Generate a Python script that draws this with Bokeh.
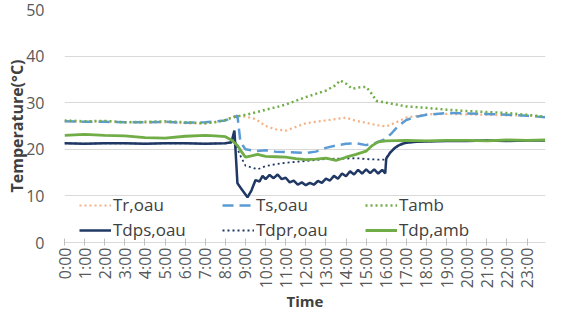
import math
from bokeh.plotting import figure
from bokeh.models import Range1d, FixedTicker, Legend, LegendItem
from bokeh.embed import file_html
from bokeh.resources import INLINE

# ---------------- data ----------------
hour_ticks = list(range(24))
hour_labels = ["0:00", "1:00", "2:00", "3:00", "4:00", "5:00", "6:00", "7:00",
               "8:00", "9:00", "10:00", "11:00", "12:00", "13:00", "14:00", "15:00",
               "16:00", "17:00", "18:00", "19:00", "20:00", "21:00", "22:00", "23:00"]
y_ticks = [0, 10, 20, 30, 40, 50]

t_tr = [0, 1, 2, 3, 4, 5, 6, 7, 8, 8.5, 9, 9.5, 10, 10.5, 11, 11.5, 12, 12.5, 13,
        13.5, 14, 14.5, 15, 15.5, 16, 16.5, 17, 18, 19, 20, 21, 22, 23, 23.9]
tr_oau = [26.0, 25.9, 26.0, 25.8, 25.7, 25.8, 25.6, 25.5, 26.3, 27.2, 27.0, 26.5, 25.0,
          24.3, 24.0, 24.8, 25.6, 25.9, 26.2, 26.5, 26.8, 26.1, 25.7, 25.2, 24.9, 25.8,
          26.8, 27.5, 27.6, 27.5, 27.4, 27.3, 27.2, 27.0]

t_ts = [0, 1, 2, 3, 4, 5, 6, 7, 8, 8.4, 8.6, 8.75, 9, 9.5, 10, 10.5, 11, 11.5, 12,
        12.5, 13, 13.5, 14, 14.5, 15, 15.5, 16, 16.3, 16.6, 17, 17.5, 18, 19, 20,
        21, 22, 23, 23.9]
ts_oau = [26.0, 25.9, 25.9, 25.8, 25.8, 25.9, 25.7, 25.8, 26.2, 26.8, 27.2, 21.5, 20.0,
          19.6, 19.8, 19.5, 19.4, 19.3, 19.2, 19.5, 20.3, 20.8, 21.2, 21.3, 20.9, 21.4,
          22.3, 23.6, 25.0, 26.3, 27.0, 27.4, 27.8, 27.7, 27.6, 27.4, 27.2, 26.9]

t_amb = [0, 1, 2, 3, 4, 5, 6, 7, 7.5, 8, 8.5, 9, 9.5, 10, 10.5, 11, 11.5, 12, 12.5,
         13, 13.5, 13.7, 14, 14.3, 14.7, 15, 15.3, 15.5, 16, 16.5, 17, 18, 19, 20,
         21, 22, 23, 23.9]
tamb = [26.2, 26.0, 26.1, 25.8, 25.9, 26.0, 25.8, 25.6, 25.8, 26.3, 27.0, 27.4, 27.9,
        28.5, 29.0, 29.6, 30.4, 31.2, 31.9, 32.6, 33.8, 34.8, 34.1, 33.0, 33.3, 33.4,
        31.8, 30.4, 30.0, 29.6, 29.2, 28.9, 28.5, 28.2, 28.0, 27.8, 27.4, 27.0]

t_dps = [0, 1, 2, 3, 4, 5, 6, 7, 8, 8.3, 8.45, 8.6, 8.8, 9.1, 9.3, 9.5, 9.7, 9.85,
         10.0, 10.2, 10.4, 10.6, 10.8, 11.0, 11.2, 11.4, 11.6, 11.8, 12.0, 12.2,
         12.4, 12.6, 12.8, 13.0, 13.2, 13.4, 13.6, 13.8, 14.0, 14.2, 14.4, 14.6,
         14.8, 15.0, 15.2, 15.4, 15.6, 15.8, 15.95, 16.0, 16.2, 16.4, 16.6, 16.8,
         17.0, 17.5, 18, 19, 20, 21, 22, 23, 23.9]
tdps_oau = [21.3, 21.2, 21.3, 21.3, 21.2, 21.3, 21.3, 21.2, 21.3, 21.5, 24.0, 12.7,
            11.5, 9.7, 11.2, 13.4, 13.1, 14.3, 13.6, 14.5, 13.8, 14.6, 13.6, 13.9,
            12.9, 13.3, 12.4, 12.9, 12.3, 12.8, 12.4, 13.2, 12.8, 13.7, 13.3, 14.3,
            13.7, 14.8, 14.2, 15.3, 14.6, 15.6, 14.8, 15.7, 14.9, 15.7, 14.8, 15.6,
            14.8, 18.0, 19.3, 20.2, 20.8, 21.2, 21.4, 21.6, 21.7, 21.8, 21.8, 21.9,
            21.8, 21.9, 21.9]

t_dpr = [0, 1, 2, 3, 4, 5, 6, 7, 8, 8.5, 8.7, 9.0, 9.3, 9.6, 10, 10.5, 11, 11.5, 12,
         12.5, 13, 13.5, 14, 14.5, 15, 15.5, 15.95, 16.0, 16.2, 16.5, 17, 17.5, 18,
         19, 20, 21, 22, 23, 23.9]
tdpr_oau = [21.3, 21.2, 21.3, 21.3, 21.2, 21.3, 21.3, 21.2, 21.3, 21.5, 19.0, 16.5,
            16.1, 15.7, 16.4, 16.8, 17.1, 17.3, 17.5, 17.7, 17.9, 18.0, 18.0, 18.1,
            17.9, 17.8, 17.8, 18.2, 19.4, 20.5, 21.4, 21.6, 21.7, 21.8, 21.8, 21.9,
            21.8, 21.9, 21.9]

t_dpa = [0, 0.5, 1, 2, 3, 4, 5, 6, 7, 7.5, 8, 8.3, 8.6, 8.8, 9, 9.3, 9.6, 10, 10.5,
         11, 11.5, 12, 12.5, 13, 13.5, 14, 14.5, 15, 15.3, 15.6, 16, 17, 18, 19, 20,
         21, 22, 23, 23.9]
tdp_amb = [23.0, 23.1, 23.2, 23.0, 22.9, 22.5, 22.4, 22.8, 23.0, 22.9, 22.7, 22.0,
           20.8, 19.5, 18.3, 18.6, 18.9, 18.5, 18.4, 18.3, 18.0, 17.8, 17.9, 18.1,
           17.6, 18.3, 18.9, 19.6, 20.8, 21.6, 21.8, 21.9, 21.8, 21.9, 21.9, 21.8,
           22.0, 21.9, 22.0]

# ---------------- figure ----------------
FONT = "Open Sans"
p = figure(width=547, height=314, output_backend="svg", toolbar_location=None,
           x_range=Range1d(0, 23.92), y_range=Range1d(0, 50),
           min_border_left=64, min_border_right=2, min_border_top=9,
           min_border_bottom=0)
p.outline_line_color = None
p.background_fill_color = "white"

r_tr = p.line(t_tr, tr_oau, line_color="#F4B183", line_width=2.2, line_dash="2 3")
r_ts = p.line(t_ts, ts_oau, line_color="#5B9BD5", line_width=2.5, line_dash="11 6")
r_amb = p.line(t_amb, tamb, line_color="#70AD47", line_width=2.5, line_dash="2 3")
r_dps = p.line(t_dps, tdps_oau, line_color="#1F3864", line_width=2.5)
r_dpr = p.line(t_dpr, tdpr_oau, line_color="#203864", line_width=1.8, line_dash="2 3")
r_dpa = p.line(t_dpa, tdp_amb, line_color="#70AD47", line_width=2.8)

# axes
xa = p.xaxis[0]
xa.ticker = FixedTicker(ticks=hour_ticks)
xa.major_label_overrides = {t: lab for t, lab in zip(hour_ticks, hour_labels)}
xa.major_label_orientation = math.pi / 2
xa.axis_line_color = "#D9D9D9"
xa.major_tick_line_color = "#BFBFBF"
xa.major_tick_in = 4
xa.major_tick_out = 3
xa.minor_tick_line_color = None
xa.major_label_text_font = FONT
xa.major_label_text_font_size = "16px"
xa.major_label_text_color = "#595959"
xa.major_label_standoff = 2
xa.axis_label = "Time"
xa.axis_label_text_font = FONT
xa.axis_label_text_font_size = "15px"
xa.axis_label_text_font_style = "bold"
xa.axis_label_text_color = "#404040"
xa.axis_label_standoff = 0

ya = p.yaxis[0]
ya.ticker = FixedTicker(ticks=y_ticks)
ya.axis_line_color = None
ya.major_tick_line_color = None
ya.minor_tick_line_color = None
ya.major_label_text_font = FONT
ya.major_label_text_font_size = "16px"
ya.major_label_text_color = "#595959"
ya.major_label_standoff = 14
ya.axis_label = "Temperature(°C)"
ya.axis_label_text_font = FONT
ya.axis_label_text_font_size = "16px"
ya.axis_label_text_font_style = "bold"
ya.axis_label_text_color = "#404040"
ya.axis_label_standoff = -5

p.xgrid.grid_line_color = None
p.ygrid.grid_line_color = "#D9D9D9"
p.ygrid.ticker = FixedTicker(ticks=y_ticks)

def make_legend(items, x):
    lg = Legend(items=items, location=(x, 1), orientation="vertical",
                background_fill_alpha=0, border_line_alpha=0, margin=0, padding=0,
                spacing=2, label_height=20, glyph_height=20, glyph_width=32,
                label_standoff=2, label_text_font=FONT,
                label_text_font_size="17px", label_text_color="#404040")
    p.add_layout(lg, "center")

make_legend([LegendItem(label="Tr,oau", renderers=[r_tr]),
             LegendItem(label="Tdps,oau", renderers=[r_dps])], 15)
make_legend([LegendItem(label="Ts,oau", renderers=[r_ts]),
             LegendItem(label="Tdpr,oau", renderers=[r_dpr])], 158)
make_legend([LegendItem(label="Tamb", renderers=[r_amb]),
             LegendItem(label="Tdp,amb", renderers=[r_dpa])], 301)

open("out.html", "w").write(file_html(p, INLINE))
